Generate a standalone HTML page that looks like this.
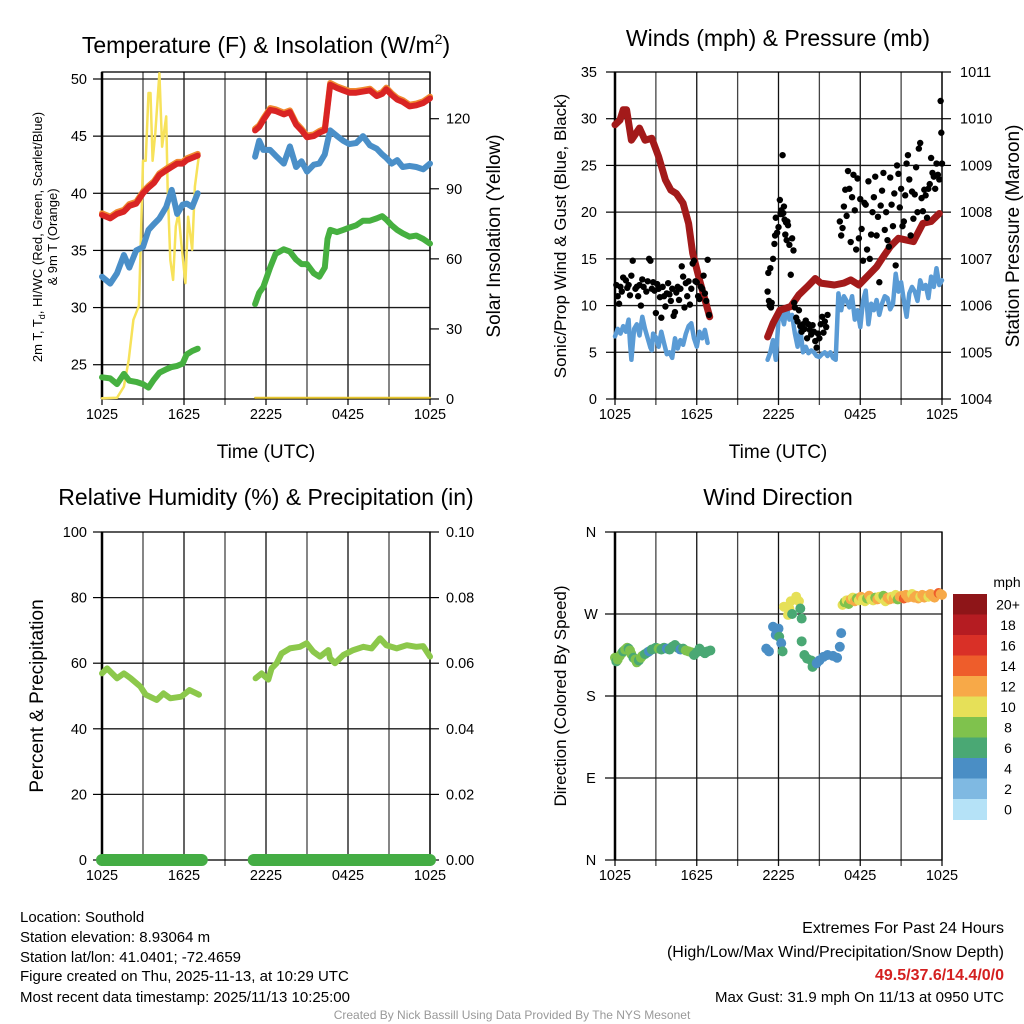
<!DOCTYPE html>
<html><head><meta charset="utf-8"><style>
html,body{margin:0;padding:0;background:#fff;}
svg{display:block;font-family:"Liberation Sans",Arial,sans-serif;}
</style></head><body>
<svg id="c" width="1024" height="1024" viewBox="0 0 1024 1024" xmlns="http://www.w3.org/2000/svg">
<rect x="0" y="0" width="1024" height="1024" fill="#fff"/>
<g id="txt" font-family="Liberation Sans, Arial, sans-serif" fill="#000">
<text x="266" y="53" font-size="23" text-anchor="middle">Temperature (F) &amp; Insolation (W/m<tspan font-size="14" dy="-9">2</tspan><tspan dy="9">)</tspan></text>
<text x="778" y="46" font-size="23" text-anchor="middle">Winds (mph) &amp; Pressure (mb)</text>
<text x="266" y="505" font-size="23" text-anchor="middle">Relative Humidity (%) &amp; Precipitation (in)</text>
<text x="778" y="505" font-size="23" text-anchor="middle">Wind Direction</text>
<text x="266" y="458" font-size="19" text-anchor="middle">Time (UTC)</text>
<text x="778" y="458" font-size="19" text-anchor="middle">Time (UTC)</text>
<text transform="translate(42,237) rotate(-90)" font-size="13" text-anchor="middle">2m T, T<tspan font-size="9" dy="3">d</tspan><tspan dy="-3">, HI/WC (Red, Green, Scarlet/Blue)</tspan></text>
<text transform="translate(57,237) rotate(-90)" font-size="13" text-anchor="middle">&amp; 9m T (Orange)</text>
<text transform="translate(500,236) rotate(-90)" font-size="19" text-anchor="middle">Solar Insolation (Yellow)</text>
<text transform="translate(566,236) rotate(-90)" font-size="17" text-anchor="middle">Sonic/Prop Wind &amp; Gust (Blue, Black)</text>
<text transform="translate(1019,236) rotate(-90)" font-size="19" text-anchor="middle">Station Pressure (Maroon)</text>
<text transform="translate(43,696) rotate(-90)" font-size="19" text-anchor="middle">Percent &amp; Precipitation</text>
<text transform="translate(566,696) rotate(-90)" font-size="17" text-anchor="middle">Direction (Colored By Speed)</text>
<g font-size="15">
<text x="20" y="922">Location: Southold</text>
<text x="20" y="942">Station elevation: 8.93064 m</text>
<text x="20" y="962">Station lat/lon: 41.0401; -72.4659</text>
<text x="20" y="981">Figure created on Thu, 2025-11-13, at 10:29 UTC</text>
<text x="20" y="1002">Most recent data timestamp: 2025/11/13 10:25:00</text>
</g>
<g font-size="16" text-anchor="end">
<text x="1004" y="933">Extremes For Past 24 Hours</text>
<text x="1004" y="957">(High/Low/Max Wind/Precipitation/Snow Depth)</text>
<text x="1004" y="980" fill="#d42020" font-weight="bold">49.5/37.6/14.4/0/0</text>
<text x="1004" y="1002" font-size="15">Max Gust: 31.9 mph On 11/13 at 0950 UTC</text>
</g>
<text x="512" y="1019" font-size="12" fill="#999" text-anchor="middle">Created By Nick Bassill Using Data Provided By The NYS Mesonet</text>
</g>
</svg>
<script>
// ---------- DATA ----------
const xTickLabels = ["1025","1625","2225","0425","1025"];
const xTickHours = [0,6,12,18,24];
const tempTicks = [25,30,35,40,45,50];
const solarTicks = [0,30,60,90,120];
const windTicks = [0,5,10,15,20,25,30,35];
const presTicks = [1004,1005,1006,1007,1008,1009,1010,1011];
const rhTicks = [0,20,40,60,80,100];
const precipTicks = ["0.00","0.02","0.04","0.06","0.08","0.10"];
const dirTicks = [0,90,180,270,360];
const dirLabels = ["N","E","S","W","N"];
const speedBins = ["0","2","4","6","8","10","12","14","16","18","20+"];
const speedColors = ["#b5e2f7","#7fb9e2","#4a8ec5","#4aa874","#7fc24d","#e6e058","#f7a948","#ee5d2b","#d93027","#b51c22","#8e1518"];

const tT1 = [0,0.6,1.1,1.6,2.0,2.5,3.0,3.4,3.8,4.2,4.7,5.1,5.5,5.9,6.2,6.6,7.0];
const red1 = [38.1,37.8,38.2,38.4,38.9,39.1,40.0,40.5,40.9,41.6,42.0,42.3,42.6,42.6,42.9,43.1,43.3];
const blue1 = [32.7,32.1,33.0,34.6,33.5,35.0,35.3,36.8,37.3,37.8,38.8,40.3,38.2,39.0,39.1,38.8,40.0];
const green1 = [23.9,23.8,23.3,24.2,23.6,23.5,23.3,23.0,23.7,24.3,24.6,24.8,24.9,25.1,25.9,26.2,26.4];
const tT2 = [11.2,11.5,11.8,12.3,12.7,13.3,13.75,14.2,14.6,15.0,15.5,15.9,16.3,16.5,16.7,17.2,17.65,18.1,18.6,19.1,19.6,20.1,20.5,20.8,21.2,21.6,22.0,22.5,23.0,23.5,24];
const red2 = [45.5,45.8,46.4,47.3,47.2,46.9,47.1,46.0,45.5,44.9,45.0,45.3,45.5,47.5,49.5,49.2,49.0,48.8,48.8,48.9,49.0,48.5,48.7,49.1,48.6,48.2,48.0,47.6,47.7,47.9,48.3];
const blue2 = [43.2,44.6,43.8,43.8,43.3,42.6,44.1,42.3,42.8,41.9,42.5,42.6,43.4,44.5,45.5,45.0,44.6,44.3,44.4,45.0,44.2,43.9,43.4,43.1,42.6,42.9,42.3,42.4,42.3,42.1,42.6];
const green2 = [30.3,31.3,31.8,33.5,34.7,35.1,34.9,34.2,33.8,33.8,33.0,32.7,33.5,36.0,36.8,36.6,36.8,37.0,37.2,37.6,37.6,37.8,38.0,37.7,37.2,36.8,36.5,36.2,36.3,36.0,35.6];
const solarT1 = [0,1.1,1.6,1.95,2.3,2.7,2.8,3.0,3.2,3.4,3.55,3.7,3.9,4.2,4.4,4.7,4.8,5.0,5.2,5.4,5.6,5.8,6.1,6.3,6.6,6.8,7.1];
const solarV1 = [0.3,0.5,5.3,16.7,33.9,39.9,59.6,102,102,131,131,102,113.9,139.5,108,121,91,59.6,51,73.9,79.6,66.7,49.6,78,63.9,91,104.6];
const solarT2 = [11.2,24];
const solarV2 = [0.5,0.5];

const presT1 = [0,0.37,0.6,0.85,1.2,1.8,2.2,2.7,3.2,3.7,4.1,4.5,5.0,5.4,5.7,6.2,6.95];
const presV1 = [1009.87,1009.97,1010.19,1010.19,1009.54,1009.8,1009.54,1009.58,1009.19,1008.69,1008.47,1008.4,1008.19,1007.76,1007.12,1006.55,1005.76];
const presT2 = [11.2,11.6,12.1,12.9,13.5,14.1,14.7,15.1,16.1,16.8,17.3,17.9,18.5,19.2,19.7,20.2,20.8,21.9,22.6,23.2,23.8];
const presV2 = [1005.33,1005.62,1005.9,1005.98,1006.23,1006.4,1006.58,1006.48,1006.44,1006.48,1006.55,1006.44,1006.62,1006.83,1007.05,1007.26,1007.44,1007.37,1007.76,1007.8,1007.97];
const windT1 = [0,0.2,0.4,0.6,0.8,1.0,1.1,1.2,1.4,1.6,1.8,2.0,2.2,2.4,2.6,2.7,2.8,3.0,3.2,3.4,3.6,3.8,4.0,4.2,4.4,4.6,4.8,5.0,5.2,5.4,5.6,5.8,6.0,6.2,6.4,6.6,6.8];
const windV1 = [6.7,7.5,7.0,7.8,7.2,8.5,6.0,4.2,7.5,8.0,6.8,8.8,7.5,6.5,5.5,5.2,7.0,6.6,5.6,7.2,6.0,4.8,5.0,4.4,6.5,5.4,6.3,5.8,7.0,7.8,8.1,6.5,5.6,7.2,6.5,7.4,6.0];
const windT2 = [11.2,11.4,11.6,11.8,12.0,12.2,12.4,12.6,12.8,13.0,13.2,13.4,13.6,13.8,14.0,14.2,14.4,14.6,14.8,15.0,15.2,15.4,15.6,15.8,16.0,16.2,16.4,16.6,16.8,17.0,17.2,17.4,17.6,17.8,18.0,18.2,18.4,18.6,18.8,19.0,19.2,19.4,19.6,19.8,20.0,20.2,20.4,20.6,20.8,21.0,21.2,21.4,21.6,21.8,22.0,22.2,22.4,22.6,22.8,23.0,23.2,23.4,23.6,23.8,24.0];
const windV2 = [4.2,5.0,6.3,4.2,8.5,9.2,8.0,9.9,8.5,9.0,7.0,5.6,7.5,5.0,5.6,4.9,5.2,5.0,4.6,4.5,4.8,5.0,4.6,5.0,4.4,4.2,11.3,9.5,11.0,10.5,9.8,11.0,8.5,9.5,7.7,10.5,11.6,8.0,10.2,9.5,10.6,9.0,10.2,11.0,10.8,9.6,10.2,13.4,11.5,12.5,10.6,8.8,11.3,12.0,11.5,10.5,12.7,11.8,12.2,10.8,13.1,12.0,14.0,12.2,12.7];
const gustT = [0.1,0.2,0.3,0.4,0.5,0.6,0.8,0.9,1.0,1.1,1.2,1.3,1.5,1.6,1.7,1.8,1.9,2.0,2.1,2.3,2.4,2.5,2.6,2.7,2.8,2.9,3.0,3.1,3.2,3.3,3.4,3.5,3.6,3.7,3.8,3.9,4.0,4.1,4.2,4.3,4.4,4.5,4.6,4.7,4.8,4.9,5.0,5.1,5.2,5.3,5.4,5.5,5.6,5.7,5.8,5.9,6.0,6.1,6.2,6.3,6.4,6.5,6.6,6.7,6.8,6.9,
 11.2,11.25,11.3,11.35,11.4,11.45,11.5,11.6,11.7,11.75,11.8,11.9,12.0,12.1,12.15,12.2,12.25,12.3,12.35,12.4,12.45,12.5,12.55,12.6,12.65,12.7,12.8,12.9,13.0,13.1,13.15,13.2,13.3,13.4,13.5,13.6,13.7,13.8,13.9,14.0,14.1,14.2,14.3,14.4,14.5,14.6,14.7,14.8,14.9,15.0,15.1,15.2,15.3,15.4,15.5,15.6,
 16.5,16.6,16.7,16.8,16.9,17.0,17.1,17.2,17.3,17.4,17.5,17.6,17.7,17.8,17.9,18.0,18.1,18.2,18.3,18.4,18.5,18.6,18.7,18.8,18.9,19.0,19.1,19.2,19.3,19.4,19.5,19.6,19.7,19.8,19.9,20.0,20.1,20.2,20.3,20.4,20.5,20.6,20.7,20.8,20.9,21.0,21.1,21.2,21.3,21.4,21.5,21.6,21.7,21.8,21.9,22.0,22.1,22.2,22.3,22.4,22.5,22.6,22.7,22.8,22.9,23.0,23.1,23.2,23.3,23.4,23.5,23.6,23.7,23.8,23.9,23.95,24.0];
const gustV = [12.2,11.0,10.2,12.0,11.5,13.0,12.7,11.9,12.2,11.1,13.2,14.8,11.8,12.0,11.0,12.2,10.0,12.8,12.0,11.5,12.6,15.0,14.8,11.8,12.5,11.6,9.2,12.3,11.8,10.9,8.7,12.0,11.0,9.9,11.3,12.4,11.2,10.5,11.8,8.9,9.3,11.4,12.0,10.6,11.8,14.2,13.1,9.8,12.4,11.0,12.6,10.1,11.8,14.5,14.8,12.6,12.5,11.0,10.7,12.0,11.8,13.2,11.3,10.5,14.9,9.0,
 11.5,13.5,10.5,10.0,14.0,9.8,10.3,15.0,16.6,17.5,19.4,17.8,18.4,21.3,19.8,20.2,19.8,26.1,19.9,20.6,19.2,17.6,18.9,17.0,19.0,18.6,16.5,13.3,17.2,15.9,10.3,9.8,8.7,8.3,9.5,7.8,7.2,8.0,7.5,8.4,6.5,8.0,7.4,6.9,7.9,7.2,6.2,5.5,7.0,6.5,8.0,8.8,7.1,8.3,7.7,9.0,
 19.0,17.5,18.3,20.6,22.4,19.6,24.4,22.5,16.8,21.6,24.0,20.2,16.0,23.6,17.2,21.4,18.2,14.8,21.0,20.8,16.0,23.3,15.0,17.6,20.0,21.6,23.8,17.5,19.5,12.5,20.7,22.3,24.2,18.1,20.0,17.0,16.3,23.7,20.8,18.5,22.0,14.3,25.0,24.1,20.5,22.5,18.5,19.0,21.8,25.2,26.1,23.5,17.5,22.2,19.3,21.9,24.8,20.0,26.8,27.4,21.5,20.1,22.4,21.8,19.4,22.5,23.0,25.8,24.2,23.8,22.5,25.2,24.0,23.5,31.9,28.5,25.2];

const rhT1 = [0,0.37,1.1,1.6,2.1,2.8,3.2,4.0,4.5,5.0,5.8,6.4,7.1];
const rhV1 = [56.9,58.4,55.4,56.9,55.4,52.9,50.4,48.8,50.8,49.3,49.8,51.8,50.4];
const rhT2 = [11.24,11.68,12.17,12.41,12.78,13.14,13.75,14.49,14.97,15.46,15.95,16.56,16.68,17.05,17.66,18.39,19.12,19.73,20.34,20.8,21.56,22.3,23.0,23.5,24];
const rhV2 = [55.4,56.9,55,58.4,60,63,64.5,65,66.1,63.5,62,64,61.5,60,62.5,64,65,64.5,67.6,65.5,64.5,65.5,65,65.2,62];
const precipT1 = [0,7.3];
const precipV1 = [0,0];
const precipT2 = [11.1,24];
const precipV2 = [0,0];

const dirT = [0,0.1,0.2,0.35,0.5,0.6,0.75,0.9,1.0,1.1,1.2,1.35,1.5,1.6,1.75,1.9,2.0,2.2,2.4,2.5,2.7,2.9,3.0,3.2,3.4,3.6,3.8,4.0,4.2,4.4,4.6,4.8,5.0,5.2,5.4,5.6,5.8,6.0,6.2,6.4,6.6,6.8,7.0,
 11.1,11.3,11.6,11.8,12.0,12.05,12.2,12.3,12.4,12.7,12.8,12.9,13.0,13.3,13.5,13.6,13.7,13.7,13.9,14.1,14.4,14.5,14.8,15.0,15.3,15.6,16.0,16.3,16.5,16.6,
 16.7,16.85,17.0,17.15,17.3,17.45,17.6,17.75,17.9,18.05,18.2,18.35,18.5,18.65,18.8,18.95,19.1,19.25,19.4,19.55,19.7,19.85,20.0,20.15,20.3,20.45,20.6,20.75,20.9,21.05,21.2,21.35,21.5,21.65,21.8,21.95,22.1,22.25,22.4,22.55,22.7,22.85,23.0,23.15,23.3,23.45,23.6,23.75,23.9,24.0];
const dirV = [222,218,220,224,227,229,231,233,232,230,226,222,220,217,219,222,224,226,228,229,231,232,233,232,231,233,232,231,234,236,233,231,232,230,229,228,225,228,232,229,227,229,230,
 232,229,256,247,254,245,238,229,278,269,276,284,270,289,284,276,265,240,225,221,219,212,216,219,223,225,224,222,234,249,
 280,283,285,281,286,288,284,287,285,289,286,284,287,290,286,285,288,286,289,287,290,284,288,286,289,287,291,286,289,290,287,291,288,289,292,288,290,287,289,291,288,290,289,292,290,288,291,293,292,291];
const dirS = [8,6,8,8,8,6,8,8,6,8,8,6,8,8,6,8,8,6,6,4,6,6,6,8,6,6,4,6,6,6,6,4,6,8,8,8,6,6,6,6,6,6,6,
 4,4,4,4,4,6,4,6,10,10,10,10,6,10,10,6,6,6,6,6,6,6,4,4,4,4,4,4,4,4,
 10,8,10,8,12,10,12,8,10,12,10,10,8,12,10,10,8,12,10,10,8,10,12,12,10,12,10,8,12,12,14,12,12,12,10,12,12,12,10,12,12,12,10,12,12,12,12,14,12,12];

// ---------- HELPERS ----------
const NS = "http://www.w3.org/2000/svg";
const svg = document.getElementById('c');
function mk(tag, attrs, parent){
  const e = document.createElementNS(NS, tag);
  for (const k in attrs) e.setAttribute(k, attrs[k]);
  (parent || svg).appendChild(e);
  return e;
}
function lin(d0,d1,r0,r1){ return v => r0 + (v-d0)*(r1-r0)/(d1-d0); }

const P = [
  {x0:102,x1:430,y0:72,y1:399},
  {x0:615,x1:942,y0:72,y1:399},
  {x0:102,x1:430,y0:532,y1:860},
  {x0:615,x1:942,y0:532,y1:860}
];
P.forEach(p => { p.x = lin(0,24,p.x0,p.x1); });
const yTemp = lin(22,50,399,79);
const ySolar = lin(0,140,399,72);
const yWind = lin(0,35,399,72);
const yPres = lin(1004,1011,399,72);
const yRH = lin(0,100,860,532);
const yDir = lin(0,360,860,532);

function grid(p, ys, name){
  const g = mk('g', {});
  
  
  for (let h=0; h<=24; h+=3){
    const l = mk('line', {x1:p.x(h), x2:p.x(h), y1:p.y0, y2:p.y1+6, stroke:(h%6===0?'#111':'#444'), 'stroke-width':1.3}, g);
    
    
  }
  ys.forEach(y => {
    const l = mk('line', {x1:p.x0, x2:p.x1, y1:y, y2:y, stroke:'#1a1a1a', 'stroke-width':1.3}, g);
    
    
  });
  const fr = mk('rect', {x:p.x0, y:p.y0, width:p.x1-p.x0, height:p.y1-p.y0, fill:'none', stroke:'#000', 'stroke-width':1.3}, g);
  
  
  const ax = mk('line', {x1:p.x0, x2:p.x0, y1:p.y0, y2:p.y1, stroke:'#000', 'stroke-width':2.5}, g);
  
  
  xTickHours.forEach((h,i) => {
    const t = mk('text', {x:p.x(h), y:p.y1+20, 'font-size':14.5, 'text-anchor':'middle'}, g);
    t.textContent = xTickLabels[i];
    
    
  });
}
function yTicks(vals, labels, yf, x, side, name, major){
  const g = mk('g', {});
  
  
  vals.forEach((v,i) => {
    const y = yf(v);
    const dx = side==='left' ? -9 : 9;
    mk('line', {x1:x, x2:x+dx, y1:y, y2:y, stroke:'#000', 'stroke-width':1.2}, g);
    const t = mk('text', {x: side==='left' ? x-major : x+major, y:y+5, 'font-size':14.5, 'text-anchor': side==='left'?'end':'start'}, g);
    t.textContent = labels[i];
    
    
  });
}
function line(ts, vs, p, yf, color, w, name){
  const pts = [];
  for (let i=0;i<Math.min(ts.length,vs.length);i++) pts.push(p.x(ts[i]).toFixed(1)+','+yf(vs[i]).toFixed(1));
  const e = mk('polyline', {points:pts.join(' '), fill:'none', stroke:color, 'stroke-width':w, 'stroke-linejoin':'round', 'stroke-linecap':'round'});
  
  
  return e;
}

// ---------- PANEL 1 ----------
grid(P[0], tempTicks.map(yTemp), 'temp-panel');
yTicks(tempTicks, tempTicks.map(String), yTemp, P[0].x0, 'left', 'temp-y-ticks', 15);
yTicks(solarTicks, solarTicks.map(String), ySolar, P[0].x1, 'right', 'solar-y-ticks', 16);
line(solarT1, solarV1, P[0], ySolar, '#f7e25a', 2.5, 'solar-line-day1');
line(solarT2, solarV2, P[0], ySolar, '#e8c832', 2, 'solar-line-day2');
line(tT1, green1, P[0], yTemp, '#46b040', 6, 'dewpoint-line-1');
line(tT2, green2, P[0], yTemp, '#46b040', 6, 'dewpoint-line-2');
line(tT1, blue1, P[0], yTemp, '#4a8fc8', 6, 'windchill-line-1');
line(tT2, blue2, P[0], yTemp, '#4a8fc8', 6, 'windchill-line-2');
line(tT1, red1.map(v=>v+0.15), P[0], yTemp, '#f08a30', 6, 'temp-9m-line-1');
line(tT2, red2.map(v=>v+0.15), P[0], yTemp, '#f08a30', 6, 'temp-9m-line-2');
line(tT1, red1, P[0], yTemp, '#d92424', 6, 'temp-2m-line-1');
line(tT2, red2, P[0], yTemp, '#d92424', 6, 'temp-2m-line-2');

// ---------- PANEL 2 ----------
grid(P[1], [5,10,15,20,25,30].map(yWind), 'wind-panel');
yTicks(windTicks, windTicks.map(String), yWind, P[1].x0, 'left', 'wind-y-ticks', 18);
yTicks(presTicks, presTicks.map(String), yPres, P[1].x1, 'right', 'pressure-y-ticks', 18);
line(windT1, windV1, P[1], yWind, '#5a9bd5', 4.5, 'wind-speed-line-1');
line(windT2, windV2, P[1], yWind, '#5a9bd5', 4.5, 'wind-speed-line-2');
line(presT1, presV1, P[1], yPres, '#a31a1a', 7, 'pressure-line-1');
line(presT2, presV2, P[1], yPres, '#a31a1a', 7, 'pressure-line-2');
const gg = mk('g', {});


for (let i=0;i<Math.min(gustT.length,gustV.length);i++){
  const c = mk('circle', {cx:P[1].x(gustT[i]), cy:yWind(gustV[i]), r:3.2, fill:'#000'}, gg);
  
  
}

// ---------- PANEL 3 ----------
grid(P[2], [20,40,60,80].map(yRH), 'rh-panel');
yTicks(rhTicks, rhTicks.map(String), yRH, P[2].x0, 'left', 'rh-y-ticks', 15);
yTicks(rhTicks, precipTicks, yRH, P[2].x1, 'right', 'precip-y-ticks', 16);
line(rhT1, rhV1, P[2], yRH, '#8cc84b', 6, 'rh-line-1');
line(rhT2, rhV2, P[2], yRH, '#8cc84b', 6, 'rh-line-2');
line(precipT1, precipV1, P[2], v=>yRH(v*1000), '#44ad44', 12, 'precip-line-1');
line(precipT2, precipV2, P[2], v=>yRH(v*1000), '#44ad44', 12, 'precip-line-2');

// ---------- PANEL 4 ----------
grid(P[3], [90,180,270].map(yDir), 'direction-panel');
const dl = mk('g', {});


dirTicks.forEach((v,i) => {
  mk('line', {x1:P[3].x0-10, x2:P[3].x0, y1:yDir(v), y2:yDir(v), stroke:'#000', 'stroke-width':1.2}, dl);
  const t = mk('text', {x:591, y:yDir(v)+5, 'font-size':14.5, 'text-anchor':'middle'}, dl);
  t.textContent = dirLabels[i];
  
  
});
const dg = mk('g', {});


for (let i=0;i<Math.min(dirT.length,dirV.length,dirS.length);i++){
  const idx = Math.max(0, Math.min(10, Math.floor(dirS[i]/2)));
  const c = mk('circle', {cx:P[3].x(dirT[i]), cy:yDir(dirV[i]), r:5, fill:speedColors[idx]}, dg);
  
  
}
// colorbar
const cb = mk('g', {});


const cbTop = 594, cbH = 20.5;
const ut = mk('text', {x:1007, y:587, 'font-size':14, 'text-anchor':'middle'}, cb);
ut.textContent = 'mph';


for (let i=0;i<speedBins.length;i++){
  const k = speedBins.length-1-i;
  const r = mk('rect', {x:953, y:cbTop+i*cbH, width:34, height:cbH+0.5, fill:speedColors[k]}, cb);
  
  
  const t = mk('text', {x:1008, y:cbTop+i*cbH+cbH/2+5, 'font-size':14, 'text-anchor':'middle'}, cb);
  t.textContent = speedBins[k];
  
  
}
// keep text on top
svg.appendChild(document.getElementById('txt'));
</script>
</body></html>
